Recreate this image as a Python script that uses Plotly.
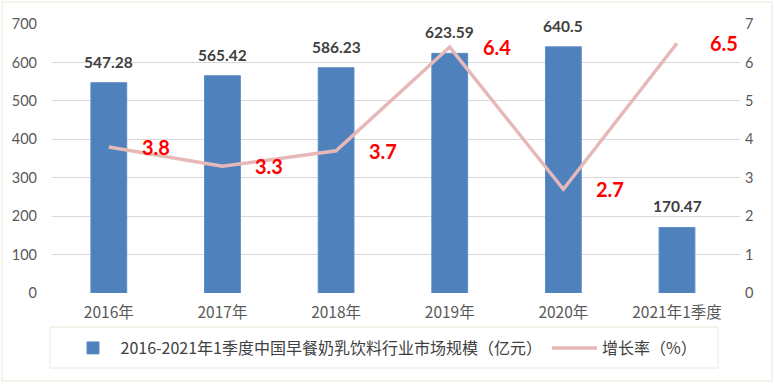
import plotly.graph_objects as go

categories = ["2016年", "2017年", "2018年", "2019年", "2020年", "2021年1季度"]
market_size = [547.28, 565.42, 586.23, 623.59, 640.5, 170.47]
growth_rate = [3.8, 3.3, 3.7, 6.4, 2.7, 6.5]
bar_labels = ["547.28", "565.42", "586.23", "623.59", "640.5", "170.47"]
rate_labels = ["3.8", "3.3", "3.7", "6.4", "2.7", "6.5"]
left_ticks = [0, 100, 200, 300, 400, 500, 600, 700]
right_ticks = [0, 1, 2, 3, 4, 5, 6, 7]

FONT = "Lato, 'Noto Sans CJK SC', sans-serif"
CJK = "'Noto Sans CJK SC', Lato, sans-serif"

W, H = 775, 384
ML, MR, MT, MB = 52, 35, 24, 91
PW, PH = W - ML - MR, H - MT - MB


def px_x(p):
    return (p - ML) / PW


def px_y(p):
    return (H - MB - p) / PH


fig = go.Figure()
fig.add_trace(go.Bar(
    x=categories, y=market_size,
    name="2016-2021年1季度中国早餐奶乳饮料行业市场规模（亿元）",
    marker=dict(color="#4F81BD", line=dict(color="#5B8CC6", width=1)),
    yaxis="y",
))
fig.add_trace(go.Scatter(
    x=categories, y=growth_rate, mode="lines",
    name="增长率（%）",
    line=dict(color="#E6B9B8", width=3.5),
    yaxis="y2",
))

annotations = []
for c, v, t in zip(categories, market_size, bar_labels):
    annotations.append(dict(x=c, y=v, xref="x", yref="y", text="<b>" + t + "</b>",
                            showarrow=False, yshift=21, yanchor="middle",
                            font=dict(family=FONT, size=15.5, color="#404040")))
for c, v, t in zip(categories, growth_rate, rate_labels):
    annotations.append(dict(x=c, y=v, xref="x", yref="y2", text="<b>" + t + "</b>",
                            showarrow=False, xshift=31, xanchor="left", yanchor="middle",
                            font=dict(family=FONT, size=20, color="#FF0000")))

fig.update_layout(
    width=W, height=H,
    margin=dict(l=ML, r=MR, t=MT, b=MB, autoexpand=False),
    paper_bgcolor="white", plot_bgcolor="white",
    bargap=0.685,
    showlegend=True,
    legend=dict(orientation="h", x=px_x(384), xanchor="center", y=px_y(331), yanchor="top",
                borderwidth=0, bgcolor="rgba(0,0,0,0)",
                font=dict(family=CJK, size=16, color="#404040"),
                itemwidth=45),
    xaxis=dict(type="category", showgrid=False, showline=False, ticks="", automargin=False,
               ticklabelstandoff=8,
               tickfont=dict(family=CJK, size=15.5, color="#595959")),
    yaxis=dict(range=[0, 700], tickvals=left_ticks, showgrid=True, gridcolor="#D9D9D9",
               gridwidth=1, zeroline=False, showline=False, ticks="", automargin=False,
               ticklabelstandoff=14,
               tickfont=dict(family=FONT, size=14.5, color="#595959")),
    yaxis2=dict(range=[0, 7], tickvals=right_ticks, overlaying="y", side="right",
                showgrid=False, zeroline=False, showline=False, ticks="", automargin=False,
                ticklabelstandoff=4,
                tickfont=dict(family=FONT, size=14.5, color="#595959")),
    annotations=annotations,
    shapes=[
        dict(type="rect", xref="paper", yref="paper",
             x0=px_x(2), x1=px_x(772), y0=px_y(381), y1=px_y(2),
             line=dict(color="#E8E8D8", width=1), fillcolor="rgba(0,0,0,0)", layer="below"),
        dict(type="rect", xref="paper", yref="paper",
             x0=px_x(50), x1=px_x(718), y0=px_y(368), y1=px_y(327),
             line=dict(color="#E8E8D8", width=1), fillcolor="rgba(0,0,0,0)", layer="below"),
    ],
)

fig.write_html("out.html", config={"displayModeBar": False},
               post_script="document.body.style.margin='0';")
